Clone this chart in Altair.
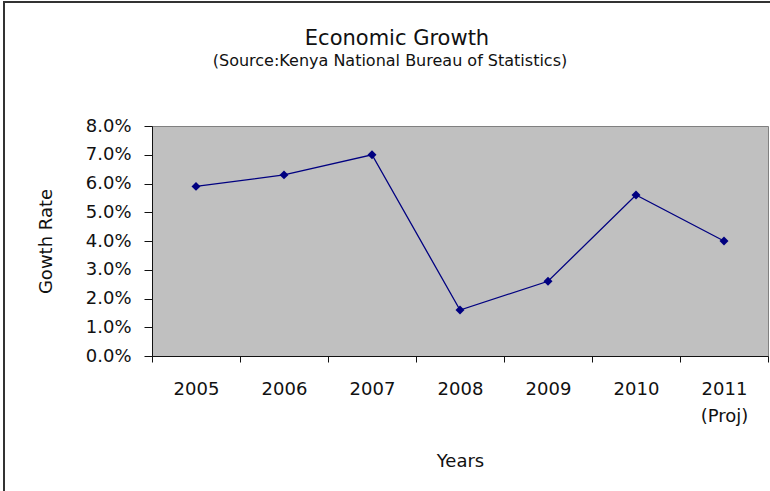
import altair as alt
import pandas as pd

years = ["2005", "2006", "2007", "2008", "2009", "2010", "2011 (Proj)"]
growth = [0.059, 0.063, 0.070, 0.016, 0.026, 0.056, 0.040]
y_ticks = [0.0, 0.01, 0.02, 0.03, 0.04, 0.05, 0.06, 0.07, 0.08]
title_text = "Economic Growth"
subtitle_text = "(Source:Kenya National Bureau of Statistics)"

df = pd.DataFrame({"Year": years, "Growth": growth})
df_title = pd.DataFrame({"t": [title_text]})
df_sub = pd.DataFrame({"t": [subtitle_text]})

FONT = "DejaVu Sans"
W, H = 616, 230
PL, PT = 152, 126

x_scale = alt.Scale(paddingInner=0, paddingOuter=0)
y_scale = alt.Scale(domain=[0, 0.08], nice=False, zero=True)

x_main = alt.X(
    "Year:N", sort=years, title="Years", scale=x_scale,
    axis=alt.Axis(
        labelAngle=0, ticks=True, tickBand="extent", tickSize=6, tickColor="#111",
        domain=True, domainColor="#111", labelPadding=18,
        labelExpr="split(datum.label, ' ')", labelLineHeight=27,
        labelFontSize=18, labelFont=FONT, labelColor="#111",
        titleFontSize=18, titleFont=FONT, titleFontWeight="normal",
        titleColor="#111", titlePadding=27, orient="bottom",
    ),
)
y_axis = alt.Axis(
    values=y_ticks, format=".1%", grid=False, tickSize=8,
    tickColor="#111", domainColor="#111", labelPadding=13,
    labelFontSize=18, labelFont=FONT, labelColor="#111",
    titleFontSize=18, titleFont=FONT, titleFontWeight="normal",
    titleColor="#111", titlePadding=30,
)
y_main = alt.Y("Growth:Q", title="Gowth Rate", scale=y_scale, axis=y_axis)

line = alt.Chart(df).mark_line(
    color="#000080", strokeWidth=1.3,
    point=alt.OverlayMarkDef(shape="diamond", filled=True, color="#000080", size=80, opacity=1),
).encode(x=x_main, y=y_main)

title_mark = alt.Chart(df_title).mark_text(
    font=FONT, fontSize=21, color="#111", align="center", baseline="alphabetic"
).encode(text="t:N", x=alt.value(245), y=alt.value(-81))
sub_mark = alt.Chart(df_sub).mark_text(
    font=FONT, fontSize=16, color="#111", align="center", baseline="alphabetic"
).encode(text="t:N", x=alt.value(238), y=alt.value(-60))

frame_top = alt.Chart(df_title).mark_rule(color="#333", strokeWidth=2).encode(
    x=alt.value(-PL + 3), x2=alt.value(770 - PL), y=alt.value(-PT + 2)
)
frame_left = alt.Chart(df_title).mark_rule(color="#333", strokeWidth=2).encode(
    x=alt.value(-PL + 4), y=alt.value(-PT + 1), y2=alt.value(491 - PT)
)

chart = (
    alt.layer(line, title_mark, sub_mark, frame_top, frame_left)
    .properties(
        width=W, height=H,
        padding={"left": PL, "top": PT, "right": 770 - PL - W, "bottom": 491 - PT - H},
        autosize=alt.AutoSizeParams(type="none"),
    )
    .configure(background="white", view=alt.ViewConfig(fill="#C0C0C0", stroke="#808080", strokeWidth=1))
)

chart.save("out.html", embed_options={"renderer": "svg", "actions": False})
